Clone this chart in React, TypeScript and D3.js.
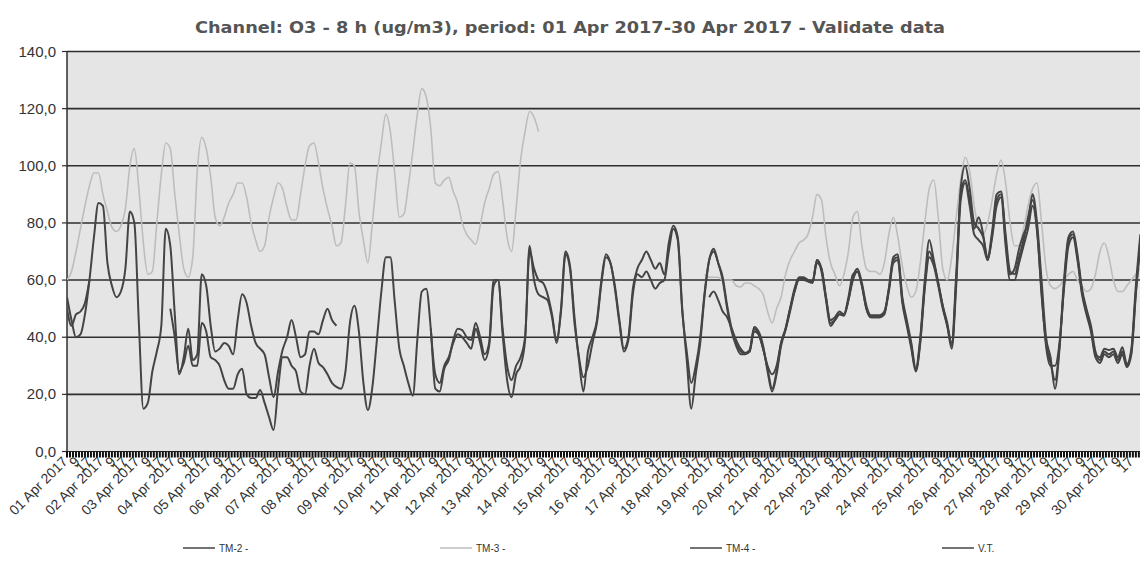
import React from 'react';
import * as d3 from 'd3';

const TITLE = 'Channel: O3 - 8 h (ug/m3), period: 01 Apr 2017-30 Apr 2017 - Validate data';
const DAYS = ['01','02','03','04','05','06','07','08','09','10','11','12','13','14','15','16','17','18','19','20','21','22','23','24','25','26','27','28','29','30'];
const HOUR_LABELS = ['9', '17'];
const Y_TICKS = [0, 20, 40, 60, 80, 100, 120, 140];
const STEP_HOURS = 3; // readings every 3 hours
const TOTAL_HOURS = 720;

// TM-2: early segment and late segment (reading index start, values)
const TM2_A_START = 0;
const TM2_A = [54, 46, 40, 41, 48, 60, 75, 87, 86, 66,
  58, 54, 56, 64, 84, 80, 45, 15, 17, 28,
  35, 44, 78, 72, 48, 27, 33, 43, 32, 34,
  62, 58, 44, 35, 36, 38, 37, 34, 46, 55,
  52, 44, 38, 36, 34, 26, 19, 28, 35.5, 40,
  46, 40, 33, 34, 42, 42, 41, 46, 50, 46, 44];
const TM2_B_START = 143;
const TM2_B = [54, 56, 53, 49, 47, 43, 39, 36, 34.5, 35.5,
  43, 41, 36, 29, 22, 28, 38, 43, 50, 57,
  61, 61, 60, 59.5, 67, 64, 54, 45, 46, 48,
  48, 54, 62, 63, 58, 50, 47, 47, 47, 48,
  57, 68, 69, 54, 46, 38, 29, 40, 60, 74,
  67, 59, 51, 44, 38, 62, 90, 95, 88, 78,
  82, 76, 67, 76, 88, 90, 76, 63, 62, 68,
  74, 82, 88, 78, 55, 38, 31, 25, 37, 60,
  75, 77, 69, 57, 50, 44, 35, 32, 35, 34,
  35, 32, 35, 30, 35, 56, 74];

// TM-3
const TM3_A_START = 0;
const TM3_A = [60, 63, 70, 78, 86, 93, 97.5, 97.5, 90, 84,
  78.5, 77, 79, 85, 100, 106, 92, 73, 62, 63,
  80, 97, 108, 106, 90, 76, 64, 61, 68, 98,
  110, 106, 96, 82, 79, 82, 87, 90, 94, 94,
  89, 80, 74, 70, 72, 82, 89, 94, 92, 85.5,
  81, 81, 90, 100, 107, 108, 101, 92, 85, 79,
  72, 73, 86, 101, 100, 84, 74, 66, 80, 96,
  108, 118, 112, 97, 82, 83, 93, 105, 118, 127,
  124, 113, 94, 93, 95, 96, 91, 87, 80, 76,
  74, 72.5, 79, 87, 92, 97, 98, 88, 75, 70,
  85, 102, 112, 119, 117, 112];
const TM3_B_START = 142;
const TM3_B = [62, 61, 61, 61, 60, 60, 60, 58, 57.6, 59,
  59, 58, 57, 55, 49, 45, 50, 54, 62, 67,
  70, 73, 74, 76, 82, 90, 88, 75, 66, 62,
  58, 62, 70, 82, 84, 72, 64, 63, 63, 62,
  66, 76, 82, 75, 65, 58, 54, 56, 66, 80,
  92, 95, 82, 64, 60, 68, 82, 95, 103, 98,
  86, 78, 76, 80, 88, 97, 102, 94, 80, 72,
  72, 78, 86, 92, 94, 80, 64, 58, 57, 58,
  60, 62, 63, 60, 58, 56, 57, 62, 70, 73,
  68, 60, 56, 56, 58, 60, 62, 64];

// TM-4
const TM4_A_START = 0;
const TM4_A = [50, 44, 48, 49, 52, 60];
const TM4_B_START = 81;
const TM4_B = [43, 27, 24, 30, 33, 38, 41, 40, 38, 36,
  43, 38, 32, 37, 58, 60, 43, 30, 25, 30,
  33, 40, 70, 64, 60, 59, 55, 48, 39, 49,
  69, 64, 45, 33, 26, 30, 38, 45, 59, 68,
  66, 57, 45, 35, 39, 55, 62, 61, 63, 60,
  57, 59, 60, 70, 78, 74, 49, 35, 24, 30,
  40, 56, 67, 70, 66, 60, 50, 42, 37, 34,
  34, 35, 42, 41, 36, 30, 27, 30, 38, 43,
  50, 56, 60, 60, 59.5, 59, 67, 63, 53, 44,
  46, 48, 47.5, 53, 60, 63, 58, 50, 47, 47,
  47, 48.5, 56, 66, 67, 52, 44, 36, 28, 38,
  57, 68, 65, 58, 50, 44, 36, 58, 88, 94,
  86, 76, 74, 72, 67, 75, 86, 89, 72, 60,
  60, 66, 72, 78, 86, 77, 56, 37, 30, 30,
  38, 57, 72, 75, 67, 55, 48, 42, 33, 31,
  34, 33, 34, 31, 34, 29.5, 34, 55, 72];

// V.T.
const VT_START = 23;
const VT = [50, 40, 28, 31, 37, 30, 30, 45, 42, 33,
  32, 30, 25, 22, 22, 27, 29, 20, 18.7, 18.7,
  21.5, 17, 12, 7.5, 22, 33, 33, 30, 28, 21,
  20, 30, 36, 31, 29.5, 27, 24, 22.6, 22, 28,
  45, 51, 42, 24, 14.5, 22.6, 39, 56, 68, 68,
  52, 36, 30, 24, 19.5, 39, 56, 57, 43, 22,
  21, 29, 32, 39, 43, 42.5, 40, 39, 45, 40,
  34, 38, 60, 60, 41, 25, 19, 27, 30, 39,
  72, 60, 55, 54, 53, 47, 38, 50, 70, 65,
  47, 32, 21, 35, 40, 46, 60, 69, 66, 58,
  46, 36, 40, 57, 64, 67, 70, 67, 64, 66,
  62, 73, 79, 75, 50, 32, 15, 27, 38, 55,
  67, 71, 66, 61, 51, 43, 38, 35, 34.3, 35,
  43.6, 42, 37, 28, 21, 27, 37, 42.5, 49, 56,
  60.5, 60.5, 60, 59.3, 66, 64, 54, 46, 47, 49,
  48, 53, 61, 64, 59, 51, 47.7, 47.7, 47.7, 49,
  57, 67, 68, 53, 45, 37, 28.5, 39, 58, 70,
  66, 59, 51, 45, 37, 60, 92, 100, 92, 80,
  78, 75, 68, 77, 90, 91, 74, 62, 64, 71,
  76, 80, 90, 80, 60, 40, 33, 22, 36, 58,
  74, 76, 68, 56, 49, 43, 34, 33, 36, 35.5,
  36, 33, 36.5, 30.5, 36, 58, 76];

const DARK = '#444444';
const LIGHT = '#bdbdbd';

const SERIES = [
  { name: 'TM-3 -', color: LIGHT, width: 1.6, segments: [{ start: TM3_A_START, values: TM3_A }, { start: TM3_B_START, values: TM3_B }] },
  { name: 'TM-2 -', color: DARK, width: 2, segments: [{ start: TM2_A_START, values: TM2_A }, { start: TM2_B_START, values: TM2_B }] },
  { name: 'TM-4 -', color: DARK, width: 2, segments: [{ start: TM4_A_START, values: TM4_A }, { start: TM4_B_START, values: TM4_B }] },
  { name: 'V.T.', color: DARK, width: 2, segments: [{ start: VT_START, values: VT }] },
];

const LEGEND = [
  { name: 'TM-2 -', color: DARK, x: 183 },
  { name: 'TM-3 -', color: LIGHT, x: 440 },
  { name: 'TM-4 -', color: DARK, x: 690 },
  { name: 'V.T.', color: DARK, x: 942 },
];

export default function App() {
  const W = 1140, H = 574;
  const left = 67, top = 51.5, bottom = 451.5;
  const x = d3.scaleLinear().domain([0, TOTAL_HOURS]).range([left, left + TOTAL_HOURS * 1.497]);
  const y = d3.scaleLinear().domain([0, 140]).range([bottom, top]);
  const right = x(TOTAL_HOURS);

  const line = d3.line<[number, number]>()
    .x(d => x(d[0]))
    .y(d => y(d[1]))
    .curve(d3.curveMonotoneX);

  const tickHours = d3.range(0, TOTAL_HOURS + 1, 2);
  const labelFont = '"Liberation Sans", Arial, sans-serif';

  return (
    <svg width={W} height={H} style={{ position: 'absolute', left: 0, top: 0, background: '#fff' }}
      xmlns="http://www.w3.org/2000/svg">
      <defs>
        <clipPath id="plotclip">
          <rect x={left} y={top - 2} width={right - left} height={bottom - top + 2} />
        </clipPath>
      </defs>
      <text x={195} y={33} fontFamily='"DejaVu Sans", Verdana, sans-serif' fontWeight="bold" fontSize={16}
        fill="#555" textLength={750} lengthAdjust="spacingAndGlyphs">{TITLE}</text>

      <rect x={left} y={top} width={right - left} height={bottom - top} fill="#e5e5e5" />

      {Y_TICKS.filter(v => v > 0).map(v => (
        <line key={'g' + v} x1={left} x2={right} y1={y(v)} y2={y(v)} stroke="#2e2e2e" strokeWidth={1.6} />
      ))}
      {Y_TICKS.map(v => (
        <g key={'yt' + v}>
          <line x1={left - 5} x2={left} y1={y(v)} y2={y(v)} stroke="#2e2e2e" strokeWidth={1.2} />
          <text x={56} y={y(v) + 5} textAnchor="end" fontFamily={labelFont} fontSize={15} fill="#333">
            {v.toFixed(1).replace('.', ',')}
          </text>
        </g>
      ))}
      <line x1={left} x2={left} y1={top} y2={bottom} stroke="#2e2e2e" strokeWidth={1.5} />

      <g clipPath="url(#plotclip)">
        {SERIES.map(s => s.segments.map((seg, i) => {
          const pts: [number, number][] = seg.values.map((v, j) => [(seg.start + j) * STEP_HOURS, v]);
          return <path key={s.name + i} d={line(pts) || ''} fill="none" stroke={s.color}
            strokeWidth={s.width} strokeLinejoin="round" />;
        }))}
      </g>

      <line x1={left} x2={right} y1={bottom} y2={bottom} stroke="#222" strokeWidth={1.2} />
      {tickHours.map(h => (
        <rect key={'tk' + h} x={x(h) - 1} y={bottom} width={2} height={6} fill="#111" />
      ))}

      {DAYS.map((d, i) => (
        <g key={'xl' + d}>
          <text transform={`translate(${x(i * 24 + 1)},${bottom + 11}) rotate(-45)`} textAnchor="end"
            fontFamily={labelFont} fontSize={14} fill="#333">{`${d} Apr 2017`}</text>
          {HOUR_LABELS.map(hl => (
            <text key={hl} transform={`translate(${x(i * 24 + Number(hl))},${bottom + 11}) rotate(-45)`}
              textAnchor="end" fontFamily={labelFont} fontSize={14} fill="#333">{hl}</text>
          ))}
        </g>
      ))}

      {LEGEND.map(l => (
        <g key={'lg' + l.name}>
          <line x1={l.x} x2={l.x + 32} y1={548} y2={548} stroke={l.color} strokeWidth={1.5} />
          <text x={l.x + 36} y={552} fontFamily={labelFont} fontSize={10} fill="#333">{l.name}</text>
        </g>
      ))}
    </svg>
  );
}
